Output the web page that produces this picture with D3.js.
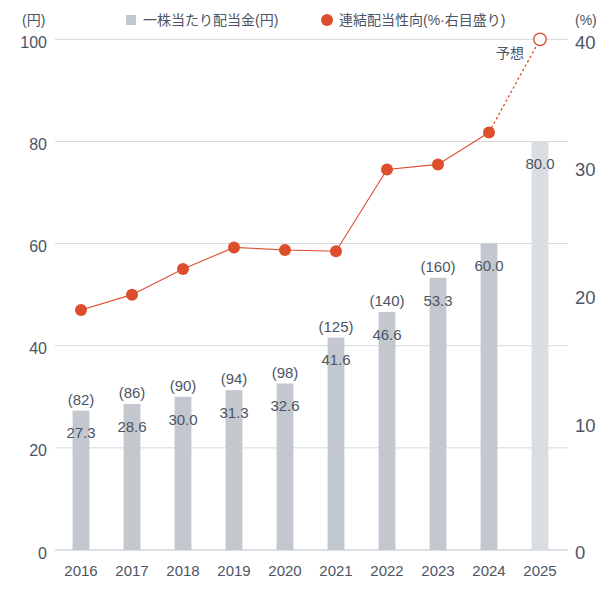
<!DOCTYPE html>
<html><head><meta charset="utf-8">
<script src="https://cdn.jsdelivr.net/npm/d3@7"></script>
<style>
body{margin:0;background:#fff;}
text{font-family:"Liberation Sans","Noto Sans CJK JP",sans-serif;}
</style></head>
<body><svg id="c" width="611" height="598"></svg>
<script>
const years = ["2016","2017","2018","2019","2020","2021","2022","2023","2024","2025"];
const dividend = [27.3,28.6,30.0,31.3,32.6,41.6,46.6,53.3,60.0,80.0];
const dividendPre = ["(82)","(86)","(90)","(94)","(98)","(125)","(140)","(160)","",""];
const payout = [18.8,20.0,22.0,23.7,23.5,23.4,29.8,30.2,32.7,40.0];
const leftTicks = [0,20,40,60,80,100];
const rightTicks = [0,10,20,30,40];
const forecastIndex = 9;

const svg = d3.select("#c");
const txt = "#4d5464";
const x = d3.scaleBand().domain(years).range([55.5,565.5]).paddingInner(0.67).paddingOuter(0.335);
const yL = d3.scaleLinear().domain([0,100]).range([550,39.3]);
const yR = d3.scaleLinear().domain([0,40]).range([550,39.3]);
const gx0 = 55, gx1 = 568;

// gridlines
svg.append("g").selectAll("line").data(leftTicks).join("line")
  .attr("x1",gx0).attr("x2",gx1).attr("y1",d=>yL(d)).attr("y2",d=>yL(d))
  .attr("stroke",d=>d===0?"#dde1e6":"#d4d8de").attr("stroke-width",d=>d===0?2:1);

// left axis labels
svg.append("g").selectAll("text").data(leftTicks).join("text")
  .attr("x",47).attr("y",d=>yL(d)+3).attr("dy","0.35em").attr("text-anchor","end")
  .attr("font-size",16).attr("fill",txt).text(d=>d);
// right axis labels
svg.append("g").selectAll("text").data(rightTicks).join("text")
  .attr("x",575).attr("y",d=>yR(d)+3).attr("dy","0.35em").attr("text-anchor","start")
  .attr("font-size",18.5).attr("fill",txt).text(d=>d);

// bars
svg.append("g").selectAll("rect").data(dividend).join("rect")
  .attr("x",(d,i)=>x(years[i])).attr("width",x.bandwidth())
  .attr("y",d=>yL(d)).attr("height",d=>yL(0)-yL(d))
  .attr("fill",(d,i)=>i===forecastIndex?"#dadee2":"#c3c8cf");

// value labels
svg.append("g").selectAll("text").data(dividend).join("text")
  .attr("x",(d,i)=>x(years[i])+x.bandwidth()/2).attr("y",d=>yL(d)+22.5).attr("dy","0.35em")
  .attr("text-anchor","middle").attr("font-size",15).attr("fill",txt)
  .text(d=>d.toFixed(1));
svg.append("g").selectAll("text").data(dividendPre).join("text")
  .attr("x",(d,i)=>x(years[i])+x.bandwidth()/2).attr("y",(d,i)=>yL(dividend[i])-11).attr("dy","0.35em")
  .attr("text-anchor","middle").attr("font-size",15).attr("fill",txt)
  .text(d=>d);

// x labels
svg.append("g").selectAll("text").data(years).join("text")
  .attr("x",d=>x(d)+x.bandwidth()/2).attr("y",571).attr("dy","0.35em")
  .attr("text-anchor","middle").attr("font-size",15).attr("fill",txt).text(d=>d);

// payout line
const red = "#dc4e2c";
const cx = i=>x(years[i])+x.bandwidth()/2;
const line = d3.line().x(d=>cx(d.i)).y(d=>yR(d.v));
const pts = payout.map((v,i)=>({v,i}));
svg.append("path").datum(pts.slice(0,forecastIndex)).attr("d",line)
  .attr("fill","none").attr("stroke",red).attr("stroke-width",1.1);
svg.append("path").datum(pts.slice(forecastIndex-1)).attr("d",line)
  .attr("fill","none").attr("stroke",red).attr("stroke-width",1.3).attr("stroke-dasharray","2.5,2.5");
svg.append("g").selectAll("circle").data(pts).join("circle")
  .attr("cx",d=>cx(d.i)).attr("cy",d=>yR(d.v))
  .attr("r",d=>d.i===forecastIndex?6.2:6)
  .attr("fill",d=>d.i===forecastIndex?"#fff":red)
  .attr("stroke",red).attr("stroke-width",d=>d.i===forecastIndex?1.3:0);

svg.append("text").attr("x",496).attr("y",53).attr("dy","0.35em")
  .attr("font-size",14).attr("fill",txt).text("予想");

// legend & units
svg.append("text").attr("x",22).attr("y",20).attr("dy","0.35em").attr("font-size",14).attr("fill",txt).text("(円)");
svg.append("text").attr("x",575).attr("y",20).attr("dy","0.35em").attr("font-size",14).attr("fill",txt).text("(%)");
svg.append("rect").attr("x",126).attr("y",15).attr("width",10).attr("height",10).attr("fill","#c3c8cf");
svg.append("text").attr("x",143).attr("y",20).attr("dy","0.35em").attr("font-size",14).attr("fill",txt).text("一株当たり配当金(円)");
svg.append("circle").attr("cx",327).attr("cy",20).attr("r",6).attr("fill",red);
svg.append("text").attr("x",339).attr("y",20).attr("dy","0.35em").attr("font-size",14).attr("fill",txt).text("連結配当性向(%·右目盛り)");
</script></body></html>
